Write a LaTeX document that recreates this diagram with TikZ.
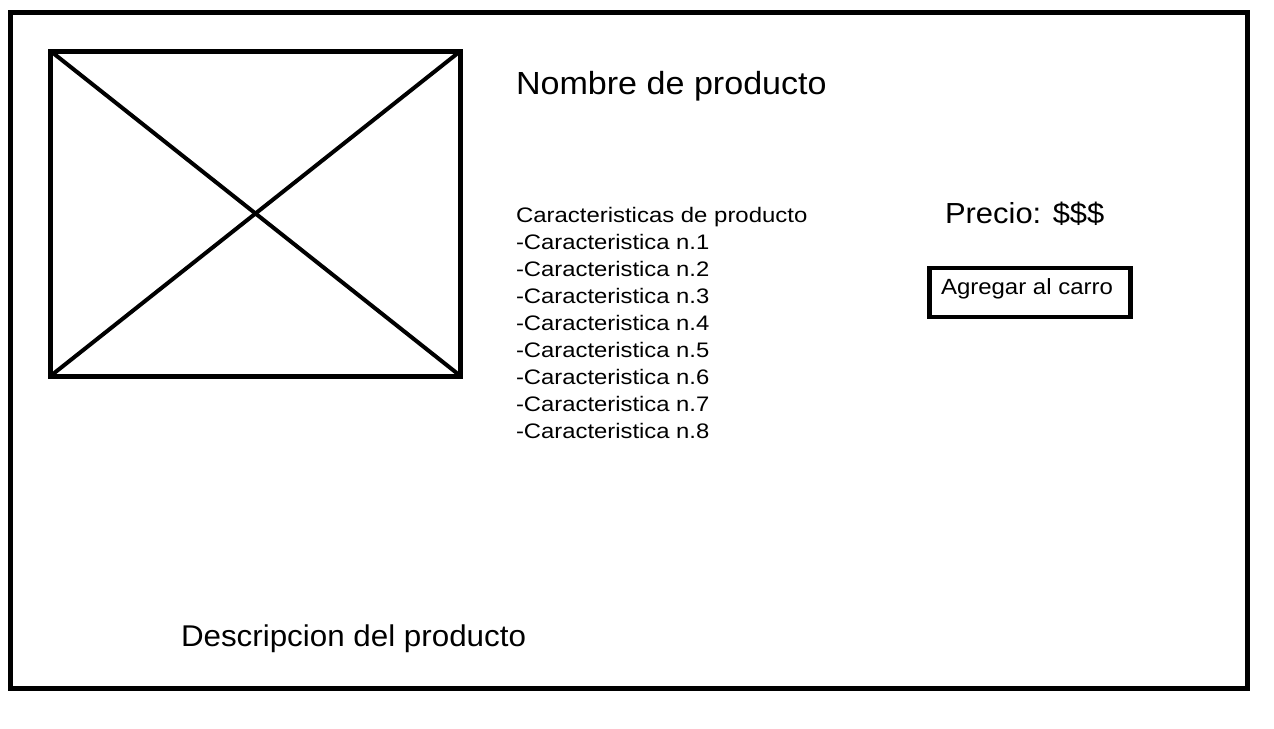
\documentclass[tikz,border=0pt]{standalone}
\usepackage{fontspec}
\setmainfont{Liberation Sans}
\newcommand{\hs}[2]{\scalebox{#1}[1]{#2}}
\begin{document}
\begin{tikzpicture}[x=1pt,y=-1pt,
  frame/.style={draw=black,line width=5pt,inner sep=0pt,outer sep=0pt},
  lbl/.style={anchor=base west,inner sep=0pt,outer sep=0pt},
  charsty/.style={lbl,font=\fontsize{21}{27}\selectfont}]
\useasboundingbox (0,0) rectangle (1274,728);
\fill[white] (0,0) rectangle (1274,728);
\node[frame,minimum width=1237pt,minimum height=676pt] (outer) at (629,350.5) {};
\node[frame,minimum width=410pt,minimum height=325pt] (img) at (255.5,213.5) {};
\draw[line width=4pt] (img.north west) -- (img.south east);
\draw[line width=4pt] (img.north east) -- (img.south west);
\node[lbl,font=\fontsize{32}{38}\selectfont] (name) at (516,94) {\hs{1.065}{Nombre de producto}};
\node[charsty] (c0) at (516,222) {\hs{1.14}{Caracteristicas de producto}};
\foreach \i in {1,...,8} {
  \node[charsty] (c\i) at (516,222+27*\i) {\hs{1.135}{-Caracteristica n.\i}};
}
\node[lbl,font=\fontsize{29}{34}\selectfont] (price) at (945,223) {\hs{1.067}{Precio: \$\$\$}};
\node[draw=black,line width=4.5pt,inner sep=0pt,outer sep=0pt,minimum width=201pt,minimum height=49pt] (btn) at (1030,292.5) {};
\node[lbl,font=\fontsize{22}{26}\selectfont] (btntext) at (941,294) {\hs{1.09}{Agregar al carro}};
\node[lbl,font=\fontsize{30}{36}\selectfont] (desc) at (181,646) {\hs{1.045}{Descripcion del producto}};
\end{tikzpicture}
\end{document}
